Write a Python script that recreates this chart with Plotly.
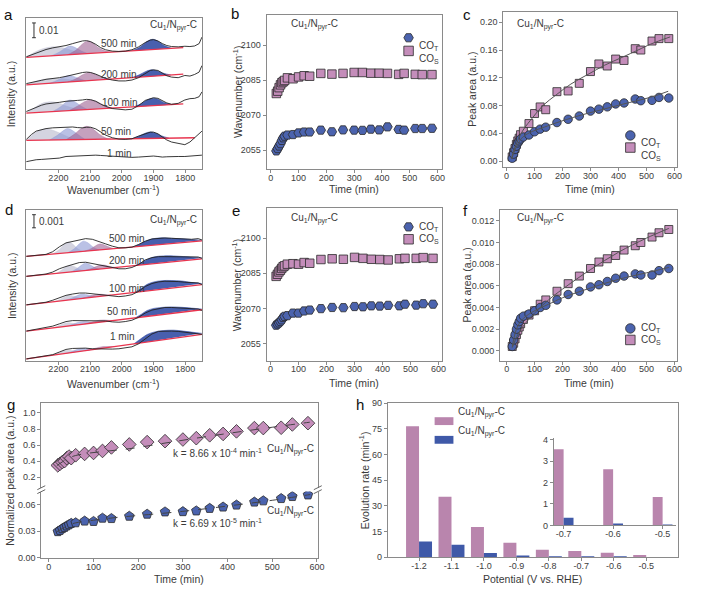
import plotly.graph_objects as go

W, H = 701, 591
FONT = "Liberation Sans, Arial, sans-serif"
BLUE = "#4B63AE"
PINK = "#C48DBA"
EDGE = "#2b2b2b"
AXC = "#8a8a8a"
TXT = "#3a3a3a"
BAR_PINK = "#B985AD"
BAR_BLUE = "#3F59A8"

# ---------------- data: kinetics (panels b, c, e, f, g) ----------------
time_min = [20, 25, 30, 35, 40, 45, 50, 60, 80, 100, 120, 140, 180, 220, 260,
            300, 330, 360, 390, 420, 460, 480, 520, 545, 580]

b_COT = [2054.7, 2055.7, 2056.8, 2057.8, 2059.2, 2060.3, 2061.0, 2061.5, 2061.7, 2062.4, 2062.8, 2062.8, 2063.6,
         2062.9, 2063.7, 2063.6, 2063.5, 2064.0, 2063.7, 2065.0, 2063.9, 2063.6, 2064.3, 2064.3, 2064.4]
b_COS = [2079.3, 2080.3, 2081.8, 2083.0, 2083.9, 2084.4, 2084.9, 2086.0, 2085.6, 2086.4, 2086.9, 2086.7, 2087.9,
         2087.6, 2087.9, 2088.3, 2088.3, 2088.0, 2088.0, 2087.9, 2087.5, 2087.9, 2087.5, 2087.4, 2087.4]

c_COT = [0.004, 0.010, 0.0167, 0.0214, 0.0261, 0.029, 0.0318, 0.0346, 0.0375, 0.0422, 0.046, 0.0488, 0.0555,
         0.0602, 0.0649, 0.072, 0.0748, 0.0781, 0.0823, 0.0837, 0.0894, 0.087, 0.0875, 0.0917, 0.0908]
c_COS = [0.006, 0.012, 0.018, 0.024, 0.029, 0.033, 0.038, 0.043, 0.054, 0.0685, 0.078, 0.074, 0.100,
         0.101, 0.112, 0.129, 0.140, 0.137, 0.147, 0.145, 0.162, 0.160, 0.173, 0.1765, 0.1765]
c_fit_T_t = [18, 30, 41, 59, 94, 136, 177, 256, 330, 416, 515, 578]
c_fit_T = [0.003, 0.016, 0.025, 0.035, 0.043, 0.049, 0.055, 0.065, 0.073, 0.082, 0.092, 0.1006]
c_fit_S_t = [18, 23, 41, 59, 94, 130, 177, 230, 295, 350, 416, 470, 515, 585]
c_fit_S = [0.003, 0.012, 0.0305, 0.0446, 0.063, 0.080, 0.0953, 0.111, 0.1258, 0.138, 0.150, 0.160, 0.1685, 0.179]

e_COT = [2062.8, 2063.3, 2063.8, 2064.4, 2065.1, 2066.1, 2066.6, 2066.9, 2068.0, 2068.0, 2068.9, 2069.3, 2069.9,
         2070.4, 2070.3, 2070.8, 2070.7, 2071.1, 2071.0, 2071.3, 2071.1, 2071.8, 2071.4, 2072.0, 2071.8]
e_COS = [2083.7, 2084.6, 2085.6, 2086.3, 2087.1, 2087.8, 2088.2, 2088.9, 2089.1, 2088.9, 2089.6, 2089.3, 2090.9,
         2091.2, 2091.0, 2091.8, 2091.4, 2091.0, 2090.9, 2090.7, 2091.2, 2091.4, 2091.4, 2091.7, 2091.4]

f_COT = [0.0004, 0.0010, 0.0015, 0.0020, 0.0024, 0.0027, 0.0030, 0.0032, 0.0034, 0.0037, 0.0040, 0.0042, 0.0047,
         0.0052, 0.0055, 0.0059, 0.0061, 0.0064, 0.0067, 0.0069, 0.0071, 0.0070, 0.0070, 0.0074, 0.0076]
f_COS = [0.0004, 0.0007, 0.0011, 0.0015, 0.0019, 0.0022, 0.0025, 0.0029, 0.0033, 0.0037, 0.0043, 0.0047, 0.0055,
         0.0062, 0.0069, 0.0076, 0.0082, 0.0085, 0.0088, 0.0093, 0.0097, 0.0100, 0.0105, 0.0109, 0.0112]
f_fit_T_t = [20, 30, 40, 60, 100, 150, 200, 300, 400, 500, 580]
f_fit_T = [0.0004, 0.0016, 0.0023, 0.0030, 0.0037, 0.0043, 0.0049, 0.0058, 0.0066, 0.0072, 0.0077]
f_fit_S_t = [20, 40, 60, 100, 150, 200, 300, 400, 500, 580]
f_fit_S = [0.0003, 0.0015, 0.0023, 0.0035, 0.0047, 0.0057, 0.0075, 0.0091, 0.0104, 0.0113]

g_upper = [0.347, 0.367, 0.388, 0.40, 0.437, 0.457, 0.437, 0.473, 0.49, 0.502, 0.527, 0.571, 0.608,
           0.637, 0.649, 0.669, 0.686, 0.722, 0.739, 0.771, 0.812, 0.812, 0.816, 0.857, 0.873]
g_lower = [0.0296, 0.031, 0.033, 0.0344, 0.036, 0.0374, 0.0389, 0.0396, 0.0415, 0.0411, 0.0448, 0.0444, 0.047,
           0.0493, 0.0519, 0.0522, 0.053, 0.0559, 0.0574, 0.0596, 0.063, 0.0644, 0.067, 0.0693, 0.0711]
g_fit_up_t = [18, 30, 45, 60, 90, 130, 186, 260, 334, 407, 481, 584]
g_fit_up = [0.345, 0.39, 0.44, 0.47, 0.50, 0.525, 0.559, 0.625, 0.69, 0.75, 0.808, 0.885]
g_fit_lo_t = [18, 30, 45, 60, 100, 150, 200, 300, 400, 500, 585]
g_fit_lo = [0.0295, 0.033, 0.037, 0.0395, 0.0425, 0.0455, 0.0478, 0.0525, 0.0585, 0.065, 0.0715]

# ---------------- data: evolution rate (panel h) ----------------
potential = [-1.2, -1.1, -1.0, -0.9, -0.8, -0.7, -0.6, -0.5]
rate_pink = [76.5, 35.3, 17.7, 8.5, 4.3, 3.55, 2.62, 1.32]
rate_blue = [9.1, 7.3, 2.5, 1.0, 0.6, 0.36, 0.06, 0.02]

# ---------------- data: spectra (panel a, units 1e-3 a.u.) ----------------
spec_times = ["500 min", "200 min", "100 min", "50 min", "1 min"]
wn_a = [2301, 2285, 2270, 2254, 2239, 2218, 2197, 2176, 2155, 2140, 2124, 2111, 2098, 2082, 2067, 2051, 2030,
        2009, 1989, 1968, 1947, 1926, 1910, 1900, 1886, 1872, 1858, 1843, 1822, 1801, 1785, 1770, 1756, 1747]
a_500 = [76.0, 77.3, 78.4, 79.8, 80.9, 82.0, 82.7, 83.6, 84.9, 86.0, 86.7, 86.9, 86.2, 84.4, 82.2, 80.7, 79.8,
         79.6, 79.8, 80.7, 82.7, 85.6, 87.3, 87.6, 86.7, 84.9, 83.6, 82.9, 82.7, 83.1, 82.9, 83.3, 84.9, 89.3]
a_200 = [57.8, 58.7, 59.3, 60.0, 60.7, 61.1, 61.8, 62.7, 63.8, 64.7, 65.3, 65.6, 65.3, 64.2, 62.7, 61.3, 60.2,
         59.6, 59.6, 60.2, 61.8, 64.7, 66.7, 67.1, 66.7, 64.9, 63.1, 62.2, 61.8, 63.3, 62.9, 64.0, 65.6, 70.0]
a_100 = [38.9, 40.4, 42.0, 43.1, 44.0, 44.4, 45.1, 45.8, 46.4, 46.4, 46.7, 47.1, 46.9, 45.8, 44.0, 42.4, 40.9,
         40.2, 40.0, 40.4, 42.9, 46.4, 47.8, 48.2, 47.8, 46.2, 44.7, 43.8, 44.4, 46.7, 47.6, 47.8, 48.9, 52.2]
a_50 = [20.0, 23.3, 25.6, 26.7, 27.3, 27.8, 28.0, 28.4, 28.4, 28.0, 27.8, 28.2, 28.2, 27.1, 24.9, 22.9, 21.1,
        20.2, 20.0, 20.4, 22.2, 24.0, 24.9, 24.9, 23.8, 21.6, 19.6, 18.2, 17.1, 16.4, 18.2, 21.1, 23.3, 25.6]
a_1 = [4.9, 5.6, 6.2, 6.4, 6.7, 6.9, 7.3, 8.4, 8.7, 8.9, 9.1, 9.3, 9.3, 9.3, 9.1, 8.9, 8.7,
       8.4, 8.0, 7.8, 8.0, 8.4, 8.4, 8.7, 8.4, 8.0, 8.2, 8.4, 8.4, 8.4, 8.7, 8.9, 9.1, 9.3]
a_base_wn = [[2301, 1806], [2301, 1806], [2301, 1806], [2301, 1770]]
a_base_y = [[75.6, 82.2], [56.9, 64.2], [37.8, 44.0], [19.3, 21.1]]
# fitted components: wavenumber and height above baseline (1e-3 a.u.)
a_gray_wn = [[2301, 2275, 2249, 2218, 2186, 2160, 2134, 2108], [2301, 2275, 2249, 2218, 2186, 2160, 2134, 2114],
             [2301, 2275, 2254, 2228, 2202, 2176, 2150, 2124], [2301, 2280, 2259, 2239, 2213, 2186, 2160, 2134]]
a_gray_h = [[0, 3.1, 5.1, 6.0, 4.9, 2.9, 1.1, 0], [0, 1.8, 2.9, 3.1, 2.4, 1.3, 0.4, 0],
            [0, 3.3, 5.8, 6.7, 5.8, 3.3, 1.3, 0], [0, 4.0, 6.7, 7.6, 6.2, 3.6, 1.1, 0]]
a_lblue_wn = [[2222, 2197, 2176, 2164, 2150, 2129, 2108], [2228, 2202, 2181, 2169, 2155, 2134, 2114],
              [2218, 2192, 2176, 2164, 2150, 2129, 2108], [2228, 2202, 2183, 2171, 2157, 2136, 2116]]
a_lblue_h = [[0, 2.2, 4.9, 5.8, 4.9, 2.2, 0], [0, 1.8, 3.8, 4.4, 3.8, 1.8, 0],
             [0, 3.1, 6.0, 7.1, 6.0, 2.7, 0], [0, 3.3, 6.4, 7.6, 6.4, 3.1, 0]]
a_pink_wn = [[2171, 2145, 2124, 2108, 2093, 2072, 2051, 2035], [2171, 2145, 2124, 2105, 2087, 2067, 2046, 2030],
             [2166, 2140, 2119, 2101, 2082, 2061, 2041, 2025], [2176, 2150, 2129, 2111, 2093, 2072, 2051, 2035]]
a_pink_h = [[0, 2.7, 6.7, 8.4, 7.1, 3.3, 0.9, 0], [0, 1.8, 4.2, 5.6, 4.4, 2.0, 0.4, 0],
            [0, 2.7, 5.3, 6.4, 5.3, 2.7, 0.7, 0], [0, 3.6, 7.3, 8.9, 7.3, 3.6, 0.9, 0]]
a_dblue_wn = [[1968, 1942, 1921, 1903, 1887, 1866, 1843], [1968, 1945, 1924, 1907, 1890, 1869, 1845],
              [1962, 1939, 1919, 1903, 1886, 1867, 1843], [1968, 1945, 1926, 1910, 1895, 1874, 1851]]
a_dblue_h = [[0, 2.2, 5.6, 6.9, 5.6, 2.2, 0], [0, 1.6, 3.6, 4.4, 3.6, 1.6, 0],
             [0, 1.8, 4.2, 5.1, 4.2, 1.8, 0], [0, 1.8, 3.6, 4.4, 3.6, 1.6, 0]]

# ---------------- data: spectra (panel d, units 1e-4 a.u.) ----------------
wn_d = [2301, 2270, 2239, 2218, 2197, 2176, 2155, 2134, 2114, 2093, 2072, 2051, 2030, 2009, 1989, 1968,
        1947, 1926, 1905, 1884, 1864, 1843, 1822, 1801, 1780, 1759, 1747]
d_500 = [79.5, 80.25, 81.0, 83.0, 86.75, 89.75, 90.75, 92.0, 93.0, 92.5, 91.0, 89.0, 87.25, 86.0, 86.0, 86.5,
         88.5, 91.0, 92.75, 93.25, 93.5, 93.25, 93.0, 92.75, 92.5, 93.0, 92.0]
d_200 = [64.25, 65.0, 66.0, 67.5, 70.0, 71.75, 73.5, 74.75, 75.0, 74.0, 72.75, 71.5, 70.5, 70.0, 70.0, 71.0,
         73.25, 76.75, 78.5, 79.25, 79.25, 79.25, 78.75, 78.75, 78.75, 79.0, 78.0]
d_100 = [42.5, 43.25, 44.5, 46.0, 48.0, 49.75, 50.75, 51.5, 51.5, 51.0, 50.25, 49.75, 49.0, 48.75, 49.25, 50.25,
         52.75, 56.5, 58.75, 60.0, 60.5, 60.5, 60.25, 59.75, 59.25, 59.25, 58.0]
d_50 = [22.5, 23.75, 25.0, 26.25, 28.0, 29.75, 30.5, 30.5, 30.25, 30.0, 30.5, 30.25, 29.5, 29.25, 29.75, 30.75,
        33.0, 36.25, 38.5, 39.75, 40.5, 40.5, 40.25, 40.0, 39.25, 39.25, 38.25]
d_1 = [1.25, 2.25, 3.25, 4.5, 6.5, 8.5, 9.25, 9.5, 9.5, 9.0, 8.75, 8.75, 8.75, 9.0, 9.5, 10.5,
       12.75, 16.75, 20.25, 22.25, 22.5, 22.5, 22.25, 21.75, 21.25, 20.5, 20.0]
d_base_wn = [[2301, 1747]] * 5
d_base_y = [[79.5, 91.25], [64.25, 77.5], [42.5, 58.0], [22.5, 38.75], [1.25, 20.0]]
d_gray_wn = [[2218, 2197, 2181, 2167, 2155, 2140, 2124], [2207, 2188, 2176, 2163, 2149, 2134, 2118],
             [2212, 2192, 2178, 2167, 2155, 2140, 2124], [2218, 2197, 2184, 2172, 2160, 2144, 2129],
             [2218, 2199, 2186, 2176, 2163, 2146, 2129]]
d_gray_h = [[0, 3, 6.75, 8, 6.25, 2.5, 0], [0, 2.25, 4.25, 5, 3.75, 1.5, 0], [0, 1.5, 3, 3.5, 2.75, 1.25, 0],
            [0, 1.25, 2.25, 2.5, 2, 0.75, 0], [0, 1.25, 2, 2.25, 1.75, 0.75, 0]]
d_lblue_wn = [[2171, 2150, 2134, 2121, 2107, 2090, 2072], [2160, 2142, 2128, 2115, 2102, 2087, 2072],
              [2176, 2157, 2142, 2128, 2115, 2097, 2082], [2171, 2153, 2140, 2126, 2114, 2097, 2082],
              [2176, 2155, 2142, 2129, 2115, 2100, 2082]]
d_lblue_h = [[0, 2.5, 6, 7.75, 6.25, 2.5, 0], [0, 2, 4.25, 5.5, 4.25, 1.75, 0], [0, 1.25, 2.5, 3.25, 2.75, 1.25, 0],
             [0, 1, 1.75, 2, 1.75, 0.75, 0], [0, 1, 1.75, 2, 1.75, 0.75, 0]]
d_pink_wn = [[2118, 2097, 2082, 2069, 2055, 2040, 2024], [2114, 2093, 2077, 2066, 2052, 2035, 2019],
             [2129, 2107, 2092, 2079, 2066, 2051, 2034], [2118, 2097, 2082, 2069, 2055, 2040, 2024],
             [2114, 2093, 2077, 2066, 2052, 2036, 2019]]
d_pink_h = [[0, 1.5, 3.5, 4.5, 3.5, 1.5, 0], [0, 1.25, 2.5, 3, 2.5, 1, 0], [0, 0.75, 1.5, 1.75, 1.5, 0.75, 0],
            [0, 0.75, 1.25, 1.5, 1.25, 0.5, 0], [0, 0.5, 1, 1.25, 1, 0.5, 0]]
d_dblue_wn = [[1962, 1941, 1920, 1899, 1873, 1843, 1811, 1780, 1747], [1957, 1936, 1915, 1895, 1869, 1837, 1806, 1775, 1747],
              [1957, 1938, 1920, 1899, 1873, 1843, 1811, 1780, 1747], [1957, 1938, 1920, 1899, 1873, 1843, 1811, 1780, 1747],
              [1962, 1941, 1920, 1894, 1868, 1837, 1806, 1775, 1747]]
d_dblue_h = [[0, 2, 4, 5, 5, 4, 3, 1.75, 0.5], [0, 2, 4.25, 5.25, 5.25, 4.5, 3.25, 2, 0.75],
             [0, 2.5, 5, 6.25, 6.5, 5.75, 4.5, 2.5, 0.75], [0, 2.25, 4.5, 5.5, 5.5, 5, 3.75, 2.25, 0.5],
             [0, 3, 5.75, 7, 7, 6.25, 4.5, 2.5, 0.75]]

SAMPLE = "Cu<sub>1</sub>/N<sub>pyr</sub>-C"
CO_T = "CO<sub>T</sub>"
CO_S = "CO<sub>S</sub>"

# ---------------- helpers ----------------
def dx(p0, p1):
    return [p0 / W, p1 / W]

def dy(top, bot):
    return [1 - bot / H, 1 - top / H]

def P(x, y):
    return x / W, 1 - y / H

fig = go.Figure()
ann = []
shapes = []

F_GRAY = "rgba(198,198,214,0.75)"
F_LBLUE = "rgba(140,152,212,0.6)"
F_PINK = "rgba(158,98,146,0.6)"
F_DBLUE = "rgba(52,78,165,0.9)"


def add_spectra(xr, yr, wn, curves, bwn, by, comps, unit):
    for k, bw in enumerate(bwn):
        slope = (by[k][1] - by[k][0]) / (bw[1] - bw[0])
        for cwn, ch, col in comps:
            ys = [(by[k][0] + slope * (w - bw[0]) + hh) * unit for w, hh in zip(cwn[k], ch[k])]
            fig.add_trace(go.Scatter(x=cwn[k], y=ys, mode="lines", line=dict(color=col, width=0.6, shape="spline"),
                                     fill="toself", fillcolor=col, xaxis=xr, yaxis=yr, hoverinfo="skip"))
        fig.add_trace(go.Scatter(x=bw, y=[v * unit for v in by[k]], mode="lines",
                                 line=dict(color="#E8344E", width=1.3), xaxis=xr, yaxis=yr))
    for c in curves:
        fig.add_trace(go.Scatter(x=wn, y=[v * unit for v in c], mode="lines",
                                 line=dict(color="#222222", width=0.9), xaxis=xr, yaxis=yr))


# panel a
add_spectra("x", "y", wn_a, [a_500, a_200, a_100, a_50, a_1], a_base_wn, a_base_y,
            [(a_gray_wn, a_gray_h, F_GRAY), (a_lblue_wn, a_lblue_h, F_LBLUE),
             (a_pink_wn, a_pink_h, F_PINK), (a_dblue_wn, a_dblue_h, F_DBLUE)], 1e-3)
# panel d
add_spectra("x4", "y4", wn_d, [d_500, d_200, d_100, d_50, d_1], d_base_wn, d_base_y,
            [(d_gray_wn, d_gray_h, F_GRAY), (d_lblue_wn, d_lblue_h, F_LBLUE),
             (d_pink_wn, d_pink_h, F_PINK), (d_dblue_wn, d_dblue_h, F_DBLUE)], 1e-4)

# spectrum labels
for lab, (w, v) in zip(spec_times, [(2009, 84.9), (2009, 64.0), (2007, 44.9), (2018, 25.6), (2009, 10.7)]):
    ann.append(dict(x=w, y=v * 1e-3, xref="x", yref="y", text=lab, showarrow=False,
                    font=dict(size=10, color=TXT)))
for lab, (w, v) in zip(spec_times, [(1985, 93), (1985, 76.25), (1985, 55), (1999, 37.5), (1999, 18.25)]):
    ann.append(dict(x=w, y=v * 1e-4, xref="x4", yref="y4", text=lab, showarrow=False,
                    font=dict(size=10, color=TXT)))

# scale bars
for xr, yr, y0, y1, lab in [("x", "y", 0.0889, 0.0989, "0.01"), ("x4", "y4", 0.010125, 0.011125, "0.001")]:
    shapes.append(dict(type="line", xref=xr, yref=yr, x0=2277, x1=2277, y0=y0, y1=y1, line=dict(color="#333", width=1)))
    for yy in (y0, y1):
        shapes.append(dict(type="line", xref=xr, yref=yr, x0=2283, x1=2271, y0=yy, y1=yy, line=dict(color="#333", width=1)))
    ann.append(dict(x=2268, y=(y0 + y1) / 2, xref=xr, yref=yr, text=lab, showarrow=False, xanchor="left",
                    font=dict(size=10, color=TXT)))


def mk(color, symbol, size):
    return dict(color=color, symbol=symbol, size=size, line=dict(color=EDGE, width=0.8))


# panels b, e
for xr, yr, t_, s_ in [("x2", "y2", b_COT, b_COS), ("x5", "y5", e_COT, e_COS)]:
    fig.add_trace(go.Scatter(x=time_min, y=s_, mode="markers", marker=mk(PINK, "square", 8.5), xaxis=xr, yaxis=yr))
    fig.add_trace(go.Scatter(x=time_min, y=t_, mode="markers", marker=mk(BLUE, "hexagon2", 9.5), xaxis=xr, yaxis=yr))

# panels c, f
for xr, yr, t_, s_, ft_t, ft, fs_t, fs in [("x3", "y3", c_COT, c_COS, c_fit_T_t, c_fit_T, c_fit_S_t, c_fit_S),
                                           ("x6", "y6", f_COT, f_COS, f_fit_T_t, f_fit_T, f_fit_S_t, f_fit_S)]:
    fig.add_trace(go.Scatter(x=time_min, y=s_, mode="markers", marker=mk(PINK, "square", 8), xaxis=xr, yaxis=yr))
    fig.add_trace(go.Scatter(x=time_min, y=t_, mode="markers", marker=mk(BLUE, "circle", 8.5), xaxis=xr, yaxis=yr))
    fig.add_trace(go.Scatter(x=fs_t, y=fs, mode="lines", line=dict(color="#555", width=1, shape="spline"), xaxis=xr, yaxis=yr))
    fig.add_trace(go.Scatter(x=ft_t, y=ft, mode="lines", line=dict(color="#555", width=1, shape="spline"), xaxis=xr, yaxis=yr))

# panel g
fig.add_trace(go.Scatter(x=time_min, y=g_upper, mode="markers", marker=mk(PINK, "diamond", 10.5), xaxis="x8", yaxis="y8"))
fig.add_trace(go.Scatter(x=g_fit_up_t, y=g_fit_up, mode="lines", line=dict(color="#444", width=1, dash="dash", shape="spline"),
                         xaxis="x8", yaxis="y8"))
fig.add_trace(go.Scatter(x=time_min, y=g_lower, mode="markers", marker=mk(BLUE, "pentagon", 10), xaxis="x7", yaxis="y7"))
fig.add_trace(go.Scatter(x=g_fit_lo_t, y=g_fit_lo, mode="lines", line=dict(color="#444", width=1, dash="dash", shape="spline"),
                         xaxis="x7", yaxis="y7"))

# panel h + inset
fig.add_trace(go.Bar(x=potential, y=rate_pink, width=0.04, offset=-0.04, marker=dict(color=BAR_PINK, line=dict(width=0)),
                     xaxis="x9", yaxis="y9"))
fig.add_trace(go.Bar(x=potential, y=rate_blue, width=0.04, offset=0.0, marker=dict(color=BAR_BLUE, line=dict(width=0)),
                     xaxis="x9", yaxis="y9"))
fig.add_trace(go.Bar(x=potential[-3:], y=rate_pink[-3:], width=0.02, offset=-0.02, marker=dict(color=BAR_PINK, line=dict(width=0)),
                     xaxis="x10", yaxis="y10"))
fig.add_trace(go.Bar(x=potential[-3:], y=rate_blue[-3:], width=0.02, offset=0.0, marker=dict(color=BAR_BLUE, line=dict(width=0)),
                     xaxis="x10", yaxis="y10"))

# legend keys (pixel overlay)
key_x = [412.7, 412.7, 636.7, 636.7, 412.7, 412.7, 636.7, 636.7]
key_y = [33.3, 46.7, 132.7, 145.0, 225.7, 238.3, 329.0, 340.7]
key_sym = ["hexagon2", "square", "circle", "square", "hexagon2", "square", "circle", "square"]
key_col = [BLUE, PINK, BLUE, PINK, BLUE, PINK, BLUE, PINK]
fig.add_trace(go.Scatter(x=key_x, y=key_y, mode="markers", xaxis="x11", yaxis="y11",
                         marker=dict(symbol=key_sym, color=key_col, size=9.5, line=dict(color=EDGE, width=0.8))))
for (kx, ky), lab in zip(zip(key_x, key_y), [CO_T, CO_S] * 4):
    ann.append(dict(x=(kx + 9) / W, y=1 - ky / H, xref="paper", yref="paper", text=lab, showarrow=False,
                    xanchor="left", font=dict(size=10, color=TXT)))

# legend for h
for (y0, y1), col in [((419.3, 427.3), BAR_PINK), ((438.3, 446.3), BAR_BLUE)]:
    shapes.append(dict(type="rect", xref="paper", yref="paper", x0=439 / W, x1=458 / W, y0=1 - y1 / H, y1=1 - y0 / H,
                       fillcolor=col, line=dict(width=0)))
    ann.append(dict(x=461 / W, y=1 - (y0 + y1) / 2 / H, xref="paper", yref="paper", text=SAMPLE, showarrow=False,
                    xanchor="left", font=dict(size=10, color=TXT)))

# break marks for g
for bx in (41.7, 321):
    for by_ in (491, 495):
        x0, y0 = P(bx - 4, by_ + 2)
        x1, y1 = P(bx + 4, by_ - 2)
        shapes.append(dict(type="line", xref="paper", yref="paper", x0=x0, y0=y0, x1=x1, y1=y1,
                           line=dict(color="#666", width=1)))

# text annotations
def T(x, y, text, size=10, xa="left", angle=0, color=TXT):
    px, py = P(x, y)
    ann.append(dict(x=px, y=py, xref="paper", yref="paper", text=text, showarrow=False, xanchor=xa,
                    yanchor="middle", textangle=angle, font=dict(size=size, color=color)))

for lab, x, y in [("a", 9, 10), ("b", 237.5, 8.5), ("c", 471.7, 10), ("d", 9, 208), ("e", 238, 209),
                  ("f", 470.5, 209), ("g", 11, 406), ("h", 364, 406)]:
    T(x, y, lab, size=15, xa="center", color="#111")

T(201, 20.7, SAMPLE, xa="right")
T(201, 219, SAMPLE, xa="right")
T(291.7, 20, SAMPLE)
T(291.7, 216.7, SAMPLE)
T(520, 20, SAMPLE)
T(520, 216.7, SAMPLE)
T(319, 452, SAMPLE, xa="right")
T(319, 515, SAMPLE, xa="right")
T(173, 456, "k = 8.66 x 10<sup>-4</sup> min<sup>-1</sup>")
T(173, 527, "k = 6.69 x 10<sup>-5</sup> min<sup>-1</sup>")

WN_T = "Wavenumber (cm<sup>-1</sup>)"
for x, y, t in [(115, 187.5, WN_T), (358, 187, "Time (min)"), (596, 187, "Time (min)"),
                (115, 385, WN_T), (358, 385, "Time (min)"), (595, 385, "Time (min)"),
                (181, 583.5, "Time (min)"), (538, 583.5, "Potential (V vs. RHE)")]:
    T(x, y, t, size=10.5, xa="center")
for x, y, t in [(12, 90, "Intensity (a.u.)"), (240, 88, WN_T), (476, 86, "Peak area (a.u.)"),
                (12, 285, "Intensity (a.u.)"), (239, 284.5, WN_T), (472, 285, "Peak area (a.u.)"),
                (10, 484, "Normalized peak area (a.u.)"), (368, 483, "Evolution rate (min<sup>-1</sup>)")]:
    T(x, y, t, size=10.5, xa="center", angle=-90)

# ---------------- axes ----------------
AX = dict(showline=True, linecolor=AXC, linewidth=1, mirror=True, ticks="outside", ticklen=3, tickcolor=AXC,
          tickfont=dict(size=9, color="#404040"), showgrid=False, zeroline=False, fixedrange=True)
XAX = dict(AX, ticklabelstandoff=-3)
TIME_AX = dict(XAX, tickmode="array", tickvals=[0, 100, 200, 300, 400, 500, 600])
WN_AX = dict(XAX, tickmode="array", tickvals=[2200, 2100, 2000, 1900, 1800], range=[2303, 1747])
NOY = dict(AX, ticks="", showticklabels=False)

lay = dict(
    width=W, height=H, margin=dict(l=0, r=0, t=0, b=0), paper_bgcolor="white", plot_bgcolor="rgba(0,0,0,0)",
    showlegend=False, barmode="overlay", font=dict(family=FONT, size=10, color=TXT),
    annotations=ann, shapes=shapes,
    xaxis=dict(WN_AX, domain=dx(26, 204), anchor="y"),
    yaxis=dict(NOY, domain=dy(13.3, 166.7), range=[0, 0.1022], anchor="x"),
    xaxis2=dict(TIME_AX, domain=dx(269.3, 446.7), range=[-15, 617], anchor="y2"),
    yaxis2=dict(AX, domain=dy(10, 166.7), range=[2047, 2113], tickvals=[2055, 2070, 2085, 2100], anchor="x2"),
    xaxis3=dict(TIME_AX, domain=dx(508.3, 684.3), range=[-12, 611], anchor="y3"),
    yaxis3=dict(AX, domain=dy(7.3, 165), range=[-0.0089, 0.2146], tickvals=[0, 0.04, 0.08, 0.12, 0.16, 0.20],
                tickformat=".2f", anchor="x3"),
    xaxis4=dict(WN_AX, domain=dx(26, 204), anchor="y4"),
    yaxis4=dict(NOY, domain=dy(208.3, 361.7), range=[0, 0.0115], anchor="x4"),
    xaxis5=dict(TIME_AX, domain=dx(269.3, 446.7), range=[-14, 613], anchor="y5"),
    yaxis5=dict(AX, domain=dy(207, 361.7), range=[2047.7, 2112.7], tickvals=[2055, 2070, 2085, 2100], anchor="x5"),
    xaxis6=dict(TIME_AX, domain=dx(505, 684.3), range=[-24, 611], anchor="y6"),
    yaxis6=dict(AX, domain=dy(208.3, 361.7), range=[-0.0009, 0.01302],
                tickvals=[0, 0.002, 0.004, 0.006, 0.008, 0.010, 0.012], tickformat=".3f", anchor="x6"),
    xaxis7=dict(TIME_AX, domain=dx(41.7, 321), range=[-17, 602], anchor="y7", mirror=False),
    yaxis7=dict(AX, domain=dy(495, 562.3), range=[0, 0.0748], tickvals=[0, 0.03, 0.06], tickformat=".2f", anchor="x7"),
    xaxis8=dict(AX, domain=dx(41.7, 321), range=[-17, 602], anchor="y8", side="top", mirror=False, ticks="",
                showticklabels=False),
    yaxis8=dict(AX, domain=dy(405, 491), range=[0.069, 1.1225], tickvals=[0.2, 0.4, 0.6, 0.8, 1.0], tickformat=".1f",
                anchor="x8"),
    xaxis9=dict(XAX, domain=dx(391.7, 685), range=[-1.2963, -0.4015], tickmode="array", tickvals=potential,
                ticktext=[f"{v:.1f}" for v in potential], anchor="y9"),
    yaxis9=dict(AX, domain=dy(405, 561.7), range=[0, 90], tickvals=[0, 15, 30, 45, 60, 75, 90], anchor="x9"),
    xaxis10=dict(XAX, domain=dx(559.3, 683), range=[-0.72, -0.4726], mirror=False, tickmode="array",
                 tickvals=potential[-3:], ticktext=[f"{v:.1f}" for v in potential[-3:]], anchor="y10"),
    yaxis10=dict(AX, domain=dy(440, 529.3), range=[0, 4.1], mirror=False, tickvals=[0, 1, 2, 3, 4], anchor="x10"),
    xaxis11=dict(domain=[0, 1], range=[0, W], visible=False, anchor="y11", fixedrange=True),
    yaxis11=dict(domain=[0, 1], range=[H, 0], visible=False, anchor="x11", fixedrange=True),
)
fig.update_layout(**lay)
fig.write_html("out.html", config={"displayModeBar": False},
               post_script="document.body.style.margin='0';document.body.style.overflow='hidden';")
